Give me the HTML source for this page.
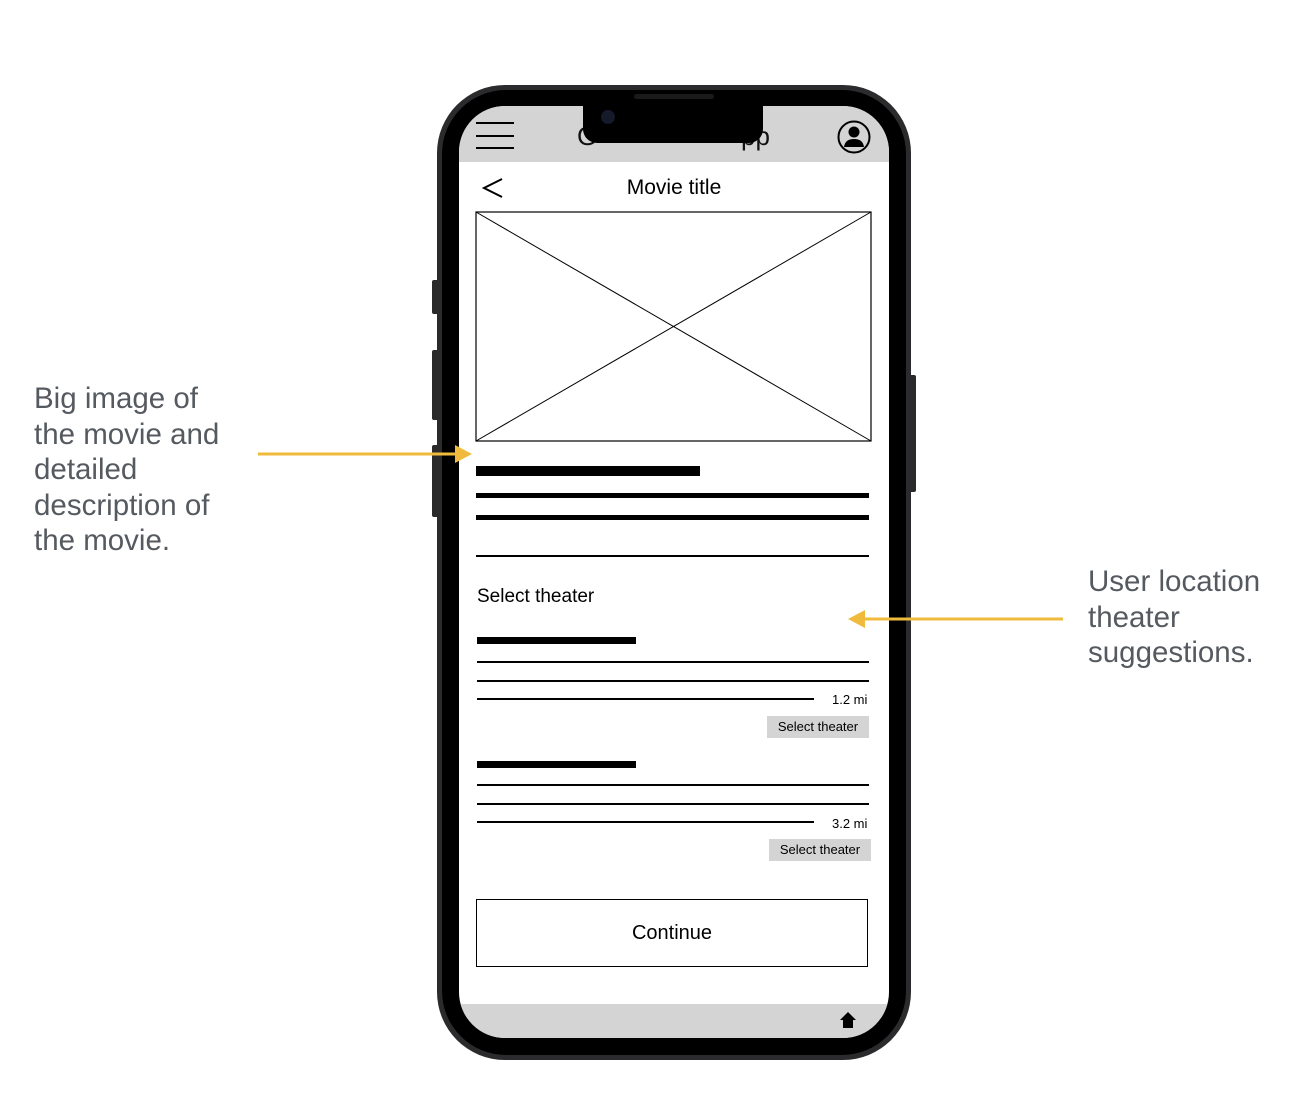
<!DOCTYPE html>
<html><head><style>
body{margin:0;width:1300px;height:1120px;background:#fff;position:relative;overflow:hidden;font-family:"Liberation Sans",sans-serif}
.a{position:absolute}
.ln{position:absolute;background:#000}
.note{position:absolute;color:#555a60;font-size:29.5px;line-height:35.5px;font-family:"Liberation Sans",sans-serif}
</style></head><body>
<div class="a" style="left:432px;top:280px;width:8px;height:34px;background:#2a2a2a;border-radius:2px"></div>
<div class="a" style="left:432px;top:350px;width:8px;height:70px;background:#2a2a2a;border-radius:2px"></div>
<div class="a" style="left:432px;top:445px;width:8px;height:72px;background:#2a2a2a;border-radius:2px"></div>
<div class="a" style="left:908px;top:375px;width:8px;height:117px;background:#2a2a2a;border-radius:2px"></div>
<div class="a" style="left:437px;top:85px;width:474px;height:975px;background:#2b2b2d;border-radius:68px"></div>
<div class="a" style="left:442px;top:90px;width:464px;height:965px;background:#000;border-radius:64px"></div>
<div class="a" style="left:459px;top:106px;width:430px;height:932px;background:#fff;border-radius:46px;overflow:hidden">
  <div class="a" style="left:0;top:0;width:430px;height:56px;background:#d4d4d4"></div>
  <div class="a" style="left:0;top:898px;width:430px;height:40px;background:#d4d4d4"></div>
</div>
<div class="a" style="left:634px;top:94px;width:80px;height:5px;background:#1a1a1a;border-radius:3px"></div>
<div class="ln" style="left:476px;top:122px;width:38px;height:2px"></div>
<div class="ln" style="left:476px;top:135px;width:38px;height:2px"></div>
<div class="ln" style="left:476px;top:147px;width:38px;height:2px"></div>
<div class="a" style="left:577px;top:121px;font-size:26px;color:#111">G</div>
<div class="a" style="left:741px;top:121px;font-size:26px;color:#111">pp</div>
<div class="a" style="left:583px;top:100px;width:180px;height:43px;background:#000;border-radius:0 0 14px 14px"></div>
<div class="a" style="left:601px;top:110px;width:14px;height:14px;background:#141a2a;border-radius:50%"></div>
<svg class="a" style="left:837px;top:120px" width="34" height="34"><circle cx="17" cy="17" r="15.5" fill="none" stroke="#000" stroke-width="2"/><circle cx="17" cy="12" r="5.5"/><path d="M7 27 Q8 19 17 19 Q26 19 27 27 Z"/></svg>
<svg class="a" style="left:480px;top:176px" width="26" height="24"><polyline points="22,3 4,12 22,21" fill="none" stroke="#000" stroke-width="2"/></svg>
<div class="a" style="left:560px;top:176px;width:228px;text-align:center;font-size:21px;color:#000">Movie title</div>
<svg class="a" style="left:475px;top:211px" width="397" height="231"><rect x="1" y="1" width="395" height="229" fill="#fff" stroke="#000" stroke-width="1.2"/><line x1="1" y1="1" x2="396" y2="230" stroke="#000"/><line x1="396" y1="1" x2="1" y2="230" stroke="#000"/></svg>
<div class="ln" style="left:476px;top:466px;width:224px;height:10px"></div>
<div class="ln" style="left:476px;top:493px;width:393px;height:5px"></div>
<div class="ln" style="left:476px;top:515px;width:393px;height:5px"></div>
<div class="ln" style="left:476px;top:555px;width:393px;height:1.5px"></div>
<div class="a" style="left:477px;top:586px;font-size:19px;color:#000">Select theater</div>
<div class="ln" style="left:477px;top:637px;width:159px;height:7px"></div>
<div class="ln" style="left:477px;top:661px;width:392px;height:2px"></div>
<div class="ln" style="left:477px;top:680px;width:392px;height:2px"></div>
<div class="ln" style="left:477px;top:698px;width:337px;height:2px"></div>
<div class="a" style="left:832px;top:692px;font-size:13px">1.2 mi</div>
<div class="a" style="left:767px;top:716px;width:102px;height:22px;background:#d4d4d4;font-size:13px;line-height:22px;text-align:center">Select theater</div>
<div class="ln" style="left:477px;top:761px;width:159px;height:7px"></div>
<div class="ln" style="left:477px;top:784px;width:392px;height:2px"></div>
<div class="ln" style="left:477px;top:803px;width:392px;height:2px"></div>
<div class="ln" style="left:477px;top:821px;width:337px;height:2px"></div>
<div class="a" style="left:832px;top:816px;font-size:13px">3.2 mi</div>
<div class="a" style="left:769px;top:839px;width:102px;height:22px;background:#d4d4d4;font-size:13px;line-height:22px;text-align:center">Select theater</div>
<div class="a" style="left:476px;top:899px;width:392px;height:68px;border:1.3px solid #000;box-sizing:border-box;font-size:20px;line-height:67px;text-align:center">Continue</div>
<svg class="a" style="left:839px;top:1011px" width="18" height="18"><path d="M9 1 L17 9 L14 9 L14 17 L4 17 L4 9 L1 9 Z"/></svg>
<div class="note" style="left:34px;top:381px">Big image of<br>the movie and<br>detailed<br>description of<br>the movie.</div>
<div class="note" style="left:1088px;top:564px">User location<br>theater<br>suggestions.</div>
<svg class="a" style="left:255px;top:440px" width="220" height="28"><line x1="3" y1="14" x2="205" y2="14" stroke="#f0bb3c" stroke-width="3"/><polygon points="200,5 217,14 200,23" fill="#f0bb3c"/></svg>
<svg class="a" style="left:845px;top:606px" width="222" height="28"><line x1="10" y1="13" x2="218" y2="13" stroke="#f0bb3c" stroke-width="3"/><polygon points="20,4 3,13 20,22" fill="#f0bb3c"/></svg>
</body></html>
